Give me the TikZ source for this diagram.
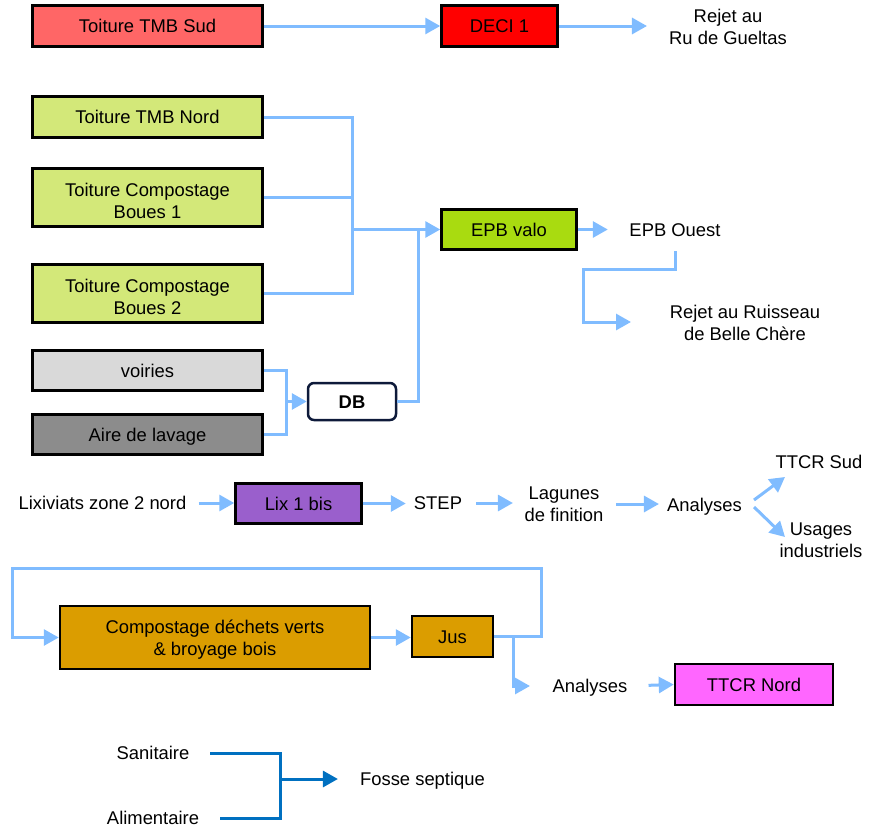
\documentclass[tikz,border=0pt]{standalone}
\usepackage{fontspec}
\setmainfont{Liberation Sans}
\usetikzlibrary{arrows.meta}
\definecolor{salmon}{HTML}{FF6666}
\definecolor{decired}{HTML}{FF0000}
\definecolor{lgreen}{HTML}{D3E879}
\definecolor{epbgreen}{HTML}{A9DB10}
\definecolor{lgray}{HTML}{D9D9D9}
\definecolor{dgray}{HTML}{8C8C8C}
\definecolor{lixpurple}{HTML}{9A5FCC}
\definecolor{compost}{HTML}{DB9D00}
\definecolor{magentabox}{HTML}{FF66FF}
\definecolor{lblue}{HTML}{80BCFF}
\definecolor{navyb}{HTML}{0E1A3A}
\definecolor{dblue}{HTML}{0070C0}
\tikzset{
  every node/.style={font=\fontsize{18.4pt}{22pt}\selectfont, inner sep=0pt},
  t1/.style={text height=13.2pt, text depth=0pt},
  t2/.style={align=center, text height=35.2pt, text depth=0pt},
  t2low/.style={align=center, text height=41.2pt, text depth=0pt},
  box/.style={draw=black, line width=2.5pt},
  line/.style={draw=lblue, line width=3pt},
  flow/.style={line, -{Triangle[length=15pt,width=16pt]}},
  dline/.style={draw=dblue, line width=3pt},
  dflow/.style={dline, -{Triangle[length=15pt,width=16pt]}}
}
\begin{document}
\begin{tikzpicture}[x=1pt,y=-1pt]
\useasboundingbox (0,0) rectangle (873,828);

% Row 1
\node[box, t1, fill=salmon, minimum width=230, minimum height=41] (tmbsud) at (147.5,26) {Toiture TMB Sud};
\node[box, t1, fill=decired, minimum width=116, minimum height=41] (deci) at (499.5,26) {DECI 1};
\node[t2] (rejet1) at (728,26.5) {Rejet au\\Ru de Gueltas};
\draw[flow] (tmbsud.east) -- (deci.west);
\draw[flow, shorten >=22pt] (deci.east) -- (deci.east -| rejet1.west);

% Green group
\node[box, t1, fill=lgreen, minimum width=230, minimum height=41] (tmbnord) at (147.5,117) {Toiture TMB Nord};
\node[box, t2low, fill=lgreen, minimum width=230, minimum height=58] (tcb1) at (147.5,197.5) {Toiture Compostage\\Boues 1};
\node[box, t2low, fill=lgreen, minimum width=230, minimum height=58] (tcb2) at (147.5,293.5) {Toiture Compostage\\Boues 2};
\node[box, t1, fill=epbgreen, minimum width=135, minimum height=40] (epb) at (509,229.5) {EPB valo};
\coordinate (j1) at (352,229.5);
\draw[line] (tmbnord.east) -| (j1);
\draw[line] (tcb1.east) -| (j1);
\draw[line] (tcb2.east) -| (j1);
\draw[flow] (j1) -- (epb.west);

\node[t1] (epbouest) at (675,230) {EPB Ouest};
\draw[flow, shorten >=21.5pt] (epb.east) -- (epb.east -| epbouest.west);
\node[t2] (rejet2) at (745,323) {Rejet au Ruisseau\\de Belle Chère};
\coordinate (eo1) at (675,251);
\coordinate (eo2) at (583,269);
\coordinate (eo3) at (631,322);
\draw[flow] (eo1) |- (eo2) |- (eo3);

% DB group
\node[box, t1, fill=lgray, minimum width=230, minimum height=40] (voiries) at (147.5,370.5) {voiries};
\node[box, t1, fill=dgray, minimum width=230, minimum height=40] (aire) at (147.5,434.5) {Aire de lavage};
\node[draw=navyb, line width=2.5pt, rounded corners=6pt, t1, minimum width=88, minimum height=37, font=\fontsize{18.4pt}{22pt}\selectfont\bfseries] (db) at (352,401.5) {DB};
\coordinate (j2) at (286,401.5);
\coordinate (j3) at (418,229.5);
\draw[line] (voiries.east) -| (j2);
\draw[line] (aire.east) -| (j2);
\draw[flow] (j2) -- (db.west);
\draw[line] (db.east) -| (j3);

% Lixiviats row
\node[t1] (lixiv) at (102.5,503) {Lixiviats zone 2 nord};
\node[box, t1, fill=lixpurple, minimum width=126, minimum height=40] (lix1) at (298.5,503.5) {Lix 1 bis};
\node[t1] (step) at (438,503) {STEP};
\node[t2] (lagunes) at (564,504) {Lagunes\\de finition};
\node[t1] (analyses1) at (704.5,505) {Analyses};
\node[t1] (ttcrsud) at (819,462) {TTCR Sud};
\node[t2] (usages) at (821,540) {Usages\\industriels};
\draw[flow, shorten <=12pt] (lixiv.east) -- (lixiv.east -| lix1.west);
\draw[flow, shorten >=8pt] (lix1.east) -- (lix1.east -| step.west);
\draw[flow, shorten <=14pt, shorten >=11.5pt] (step.east) -- (step.east -| lagunes.west);
\draw[flow, shorten <=12.5pt, shorten >=8pt] (lagunes.east) -- (lagunes.east -| analyses1.west);
\coordinate (a1) at (754,500);
\coordinate (a2) at (785,477);
\coordinate (a3) at (754,507);
\coordinate (a4) at (785,537);
\draw[flow] (a1) -- (a2);
\draw[flow] (a3) -- (a4);

% Compost row
\node[box, t2, fill=compost, minimum width=310, minimum height=63] (compost) at (215,637.5) {Compostage déchets verts\\\& broyage bois};
\node[box, t1, fill=compost, minimum width=81, minimum height=41] (jus) at (452.5,636.5) {Jus};
\node[t1] (analyses2) at (590,686) {Analyses};
\node[box, t1, fill=magentabox, minimum width=158, minimum height=41] (ttcrnord) at (754,684.5) {TTCR Nord};
\coordinate (l1) at (541,568);
\coordinate (l2) at (12,637.5);
\draw[flow] (jus.east) -| (l1) -| (l2) -- (compost.west);
\draw[flow] (compost.east) -- (compost.east -| jus.west);
\coordinate (jd) at (513,636.5);
\coordinate (ae) at (530,686);
\draw[flow] (jd) |- (ae);
\draw[flow, shorten <=21pt] (analyses2.east) -- (ttcrnord.west);

% Bottom
\node[t1] (sanit) at (153,753) {Sanitaire};
\node[t1] (alim) at (153,818) {Alimentaire};
\node[t1] (fosse) at (422.5,779) {Fosse septique};
\coordinate (bj) at (280,779);
\draw[dline, shorten <=20.7pt] (sanit.east) -| (bj);
\draw[dline, shorten <=21pt] (alim.east) -| (bj);
\draw[dflow, shorten >=22pt] (bj) -- (fosse.west);
\end{tikzpicture}
\end{document}
